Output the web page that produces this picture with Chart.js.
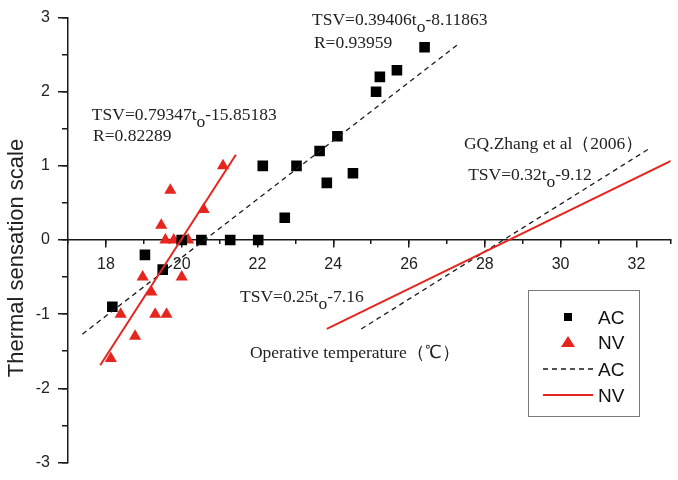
<!DOCTYPE html>
<html>
<head>
<meta charset="utf-8">
<script src="https://cdn.jsdelivr.net/npm/chart.js@4"></script>
<style>
  html, body { margin: 0; padding: 0; background: #fff; }
  #wrap { width: 678px; height: 480px; }
</style>
</head>
<body>
<div id="wrap"><canvas id="tsvChart" width="678" height="480"></canvas></div>
<script>
// Measured votes: operative temperature (°C) vs thermal sensation
const acTemp = [18.17, 19.03, 19.5, 20.0, 20.52, 21.28, 22.02, 22.14, 22.72, 23.03, 23.64, 23.83, 24.11, 24.52, 25.13, 25.23, 25.68, 26.41];
const acTsv = [-0.9, -0.2, -0.4, 0, 0, 0, 0, 1.0, 0.3, 1.0, 1.2, 0.77, 1.4, 0.9, 2.0, 2.2, 2.29, 2.6];

const nvTemp = [18.13, 18.39, 18.77, 18.97, 19.2, 19.3, 19.46, 19.57, 19.6, 19.7, 19.79, 20.0, 20.17, 20.58, 21.09];
const nvTsv = [-1.6, -1.0, -1.3, -0.5, -0.7, -1.0, 0.2, 0, -1.0, 0.67, 0, -0.5, 0, 0.41, 1.0];

// Regression lines (end points)
const acFitTemp = [17.38, 27.27];
const acFitTsv = [-1.27, 2.63];
const nvFitTemp = [17.85, 21.43];
const nvFitTsv = [-1.69, 1.15];
const zhangAcTemp = [24.74, 32.3];
const zhangAcTsv = [-1.2, 1.22];
const zhangNvTemp = [23.83, 33.0];
const zhangNvTsv = [-1.2, 1.09];

// Axis ticks
const xTickValues = [18, 20, 22, 24, 26, 28, 30, 32];
const yTickValues = [-3, -2, -1, 0, 1, 2, 3];

const red = "#e6261e";
const ink = "#1a1a1a";
const sans = "'Liberation Sans', Arial, sans-serif";
const serif = "'Liberation Serif', 'Times New Roman', serif";

function pts(xs, ys) {
  return xs.map((x, i) => ({ x: x, y: ys[i] }));
}

// text notes, anchored in data units; odd parts are the lowered "o"
const notes = [
  { x: 23.44, y: 2.895, parts: ["TSV=0.39406t", "o", "-8.11863"] },
  { x: 23.49, y: 2.593, parts: ["R=0.93959"] },
  { x: 17.63, y: 1.621, parts: ["TSV=0.79347t", "o", "-15.85183"] },
  { x: 17.66, y: 1.333, parts: ["R=0.82289"] },
  { x: 27.45, y: 1.228, parts: ["GQ.Zhang et al（2006）"] },
  { x: 27.56, y: 0.807, parts: ["TSV=0.32t", "o", "-9.12"] },
  { x: 21.54, y: -0.834, parts: ["TSV=0.25t", "o", "-7.16"] },
  { x: 21.8, y: -1.595, parts: ["Operative temperature（℃）"] },
];

const notesPlugin = {
  id: "notes",
  afterDraw(chart) {
    const ctx = chart.ctx;
    const xs = chart.scales.x;
    const ys = chart.scales.y;
    ctx.save();
    ctx.fillStyle = "#222";
    ctx.font = "17.5px " + serif;
    ctx.textBaseline = "alphabetic";
    ctx.textAlign = "left";
    notes.forEach((n) => {
      let cx = xs.getPixelForValue(n.x);
      const cy = ys.getPixelForValue(n.y);
      n.parts.forEach((p, i) => {
        ctx.fillText(p, cx, cy + (i % 2 === 1 ? 7 : 0));
        cx += ctx.measureText(p).width;
      });
    });

    // y axis title
    ctx.translate(23, 258);
    ctx.rotate(-Math.PI / 2);
    ctx.font = "22px " + sans;
    ctx.textAlign = "center";
    ctx.fillText("Thermal sensation scale", 0, 0);
    ctx.restore();
  },
};

const legendPlugin = {
  id: "boxLegend",
  afterDraw(chart) {
    const ctx = chart.ctx;
    const ds = chart.data.datasets;
    const rows = [4, 5, 1, 0]; // AC points, NV points, AC fit, NV fit
    const rowY = [317, 342, 369, 395];
    ctx.save();
    ctx.fillStyle = "#fff";
    ctx.fillRect(528.5, 290.5, 111, 126);
    ctx.strokeStyle = "#7a7a7a";
    ctx.lineWidth = 1;
    ctx.strokeRect(528.5, 290.5, 111, 126);
    rows.forEach((idx, r) => {
      const d = ds[idx];
      const y = rowY[r];
      if (d.showLine) {
        ctx.beginPath();
        ctx.setLineDash(d.borderDash || []);
        ctx.strokeStyle = d.borderColor;
        ctx.lineWidth = d.borderWidth;
        ctx.moveTo(543, y);
        ctx.lineTo(593, y);
        ctx.stroke();
        ctx.setLineDash([]);
      } else if (d.pointStyle === "rect") {
        ctx.fillStyle = d.backgroundColor;
        ctx.fillRect(564, y - 4, 8, 8);
      } else {
        ctx.fillStyle = d.backgroundColor;
        ctx.beginPath();
        ctx.moveTo(568, y - 6);
        ctx.lineTo(575, y + 5);
        ctx.lineTo(561, y + 5);
        ctx.closePath();
        ctx.fill();
      }
      ctx.fillStyle = "#111";
      ctx.font = "19px " + sans;
      ctx.textBaseline = "alphabetic";
      ctx.fillText(d.label, 598, y + 6.6);
    });
    ctx.restore();
  },
};

const axisLine = { display: true, color: ink, width: 1.5 };

const tsvChart = new Chart(document.getElementById("tsvChart"), {
  type: "scatter",
  data: {
    datasets: [
      {
        label: "NV",
        data: pts(nvFitTemp, nvFitTsv),
        showLine: true,
        borderColor: red,
        borderWidth: 2,
        pointRadius: 0,
      },
      {
        label: "AC",
        data: pts(acFitTemp, acFitTsv),
        showLine: true,
        borderColor: ink,
        borderWidth: 1.3,
        borderDash: [5, 4],
        pointRadius: 0,
      },
      {
        label: "NV (Zhang 2006)",
        data: pts(zhangNvTemp, zhangNvTsv),
        showLine: true,
        borderColor: red,
        borderWidth: 2,
        pointRadius: 0,
      },
      {
        label: "AC (Zhang 2006)",
        data: pts(zhangAcTemp, zhangAcTsv),
        showLine: true,
        borderColor: ink,
        borderWidth: 1.3,
        borderDash: [5, 4],
        pointRadius: 0,
      },
      {
        label: "AC",
        data: pts(acTemp, acTsv),
        pointStyle: "rect",
        pointRadius: 7.5,
        backgroundColor: "#000",
        borderWidth: 0,
      },
      {
        label: "NV",
        data: pts(nvTemp, nvTsv),
        pointStyle: "triangle",
        pointRadius: 7,
        backgroundColor: red,
        borderWidth: 0,
      },
    ],
  },
  options: {
    responsive: false,
    animation: false,
    layout: { padding: { top: 13, right: 0, bottom: 10, left: 0 } },
    plugins: {
      legend: { display: false },
      tooltip: { enabled: false },
    },
    scales: {
      x: {
        type: "linear",
        min: 17,
        max: 32.9,
        position: { y: 0 },
        afterBuildTicks(scale) {
          scale.ticks = xTickValues.map((v) => ({ value: v }));
        },
        border: axisLine,
        grid: { drawOnChartArea: false, color: ink, lineWidth: 1.5, tickLength: 7 },
        ticks: {
          font: { family: sans, size: 16 },
          color: "#222",
          padding: 8,
          maxRotation: 0,
        },
      },
      y: {
        type: "linear",
        min: -3,
        max: 3,
        position: "left",
        afterBuildTicks(scale) {
          scale.ticks = yTickValues.map((v) => ({ value: v }));
        },
        afterFit(scale) {
          scale.width = 68;
        },
        border: axisLine,
        grid: { drawOnChartArea: false, color: ink, lineWidth: 1.5, tickLength: 10 },
        ticks: {
          font: { family: sans, size: 16 },
          color: "#222",
          padding: 8,
        },
      },
      xMinor: {
        type: "linear",
        axis: "x",
        min: 17,
        max: 32.9,
        position: { y: 0 },
        border: { display: false },
        grid: { drawOnChartArea: false, color: ink, lineWidth: 1.5, tickLength: 4 },
        ticks: { stepSize: 1, display: false },
      },
      yMinor: {
        type: "linear",
        axis: "y",
        min: -3,
        max: 3,
        position: { x: 17 },
        border: { display: false },
        grid: { drawOnChartArea: false, color: ink, lineWidth: 1.5, tickLength: 6 },
        ticks: { stepSize: 0.5, display: false },
      },
    },
  },
  plugins: [notesPlugin, legendPlugin],
});
</script>
</body>
</html>
